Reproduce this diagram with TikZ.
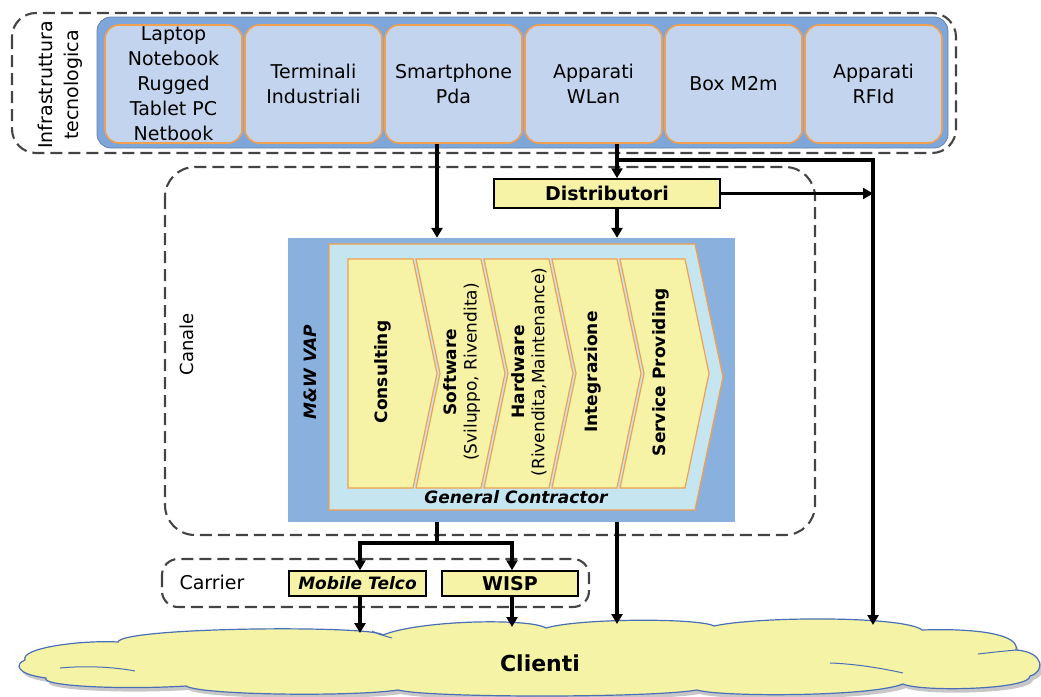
\documentclass[tikz,border=0pt]{standalone}
\usepackage{fontspec}
\setmainfont{DejaVu Sans}
\usetikzlibrary{arrows.meta,calc}

\definecolor{bandblue}{HTML}{7EA6DA}
\definecolor{devfill}{HTML}{C3D5EE}
\definecolor{orangeln}{HTML}{F0A050}
\definecolor{vapblue}{HTML}{8AB0DE}
\definecolor{gcfill}{HTML}{C5E6F1}
\definecolor{chevfill}{HTML}{F6F2A6}
\definecolor{cloudfill}{HTML}{F5F3A6}
\definecolor{cloudedge}{HTML}{4A6FB5}
\definecolor{dashgray}{HTML}{444444}

% outline of the customer cloud
\newcommand\cloudoutline{(25,660) .. controls (20,648) and (80,640) .. (118,642)
  .. controls (122,627) and (372,625) .. (383,635)
  .. controls (420,620) and (530,618) .. (546,628)
  .. controls (580,618) and (700,618) .. (714,626)
  .. controls (760,616) and (905,616) .. (922,630)
  .. controls (980,628) and (1020,635) .. (1016,650)
  .. controls (1045,652) and (1045,672) .. (1030,676)
  .. controls (1030,690) and (920,692) .. (903,684)
  .. controls (870,697) and (720,697) .. (697,690)
  .. controls (650,698) and (430,698) .. (398,690)
  .. controls (350,697) and (200,695) .. (186,686)
  .. controls (120,690) and (40,686) .. (46,678)
  .. controls (15,674) and (15,664) .. (25,660) -- cycle}

\begin{document}
\begin{tikzpicture}[x=1pt,y=-1pt,
  group/.style={draw=dashgray, line width=2.1pt, dash pattern=on 12pt off 6pt, rounded corners=#1},
  device/.style={draw=orangeln, line width=1.6pt, fill=devfill, rounded corners=14pt,
    minimum width=137pt, minimum height=118pt, inner sep=0pt, align=center,
    font=\fontsize{19}{25}\selectfont},
  tag/.style={draw=black, line width=1.5pt, fill=chevfill, inner sep=0pt},
  arr/.style={line width=3.6pt, -{Triangle[length=10pt,width=11pt]}},
  link/.style={line width=3.6pt},
  chev/.style={draw=orangeln, line width=1.2pt, fill=chevfill},
  vlabel/.style={rotate=90, align=center, font=\fontsize{17}{20}\selectfont\bfseries},
  cloudstroke/.style={draw=cloudedge, line width=1pt},
]
\useasboundingbox (0,0) rectangle (1041,696);

% ---- technology infrastructure ----
\draw[group=24pt] (12,13) rectangle (956,153);
\draw[fill=bandblue, draw=bandblue!80!black, line width=0.8pt, rounded corners=14pt] (97,17) rectangle (948,148);
\node[rotate=90, align=center, font=\fontsize{19}{26}\selectfont] (infra) at (60,85) {Infrastruttura\\tecnologica};

\node[device] (dev1) at (173.5,84) {Laptop\\Notebook\\Rugged\\Tablet PC\\Netbook};
\node[device] (dev2) at (313.5,84) {Terminali\\Industriali};
\node[device] (dev3) at (453.5,84) {Smartphone\\Pda};
\node[device] (dev4) at (593.5,84) {Apparati\\WLan};
\node[device] (dev5) at (733.5,84) {Box M2m};
\node[device] (dev6) at (873.5,84) {Apparati\\RFId};

% ---- channel ----
\draw[group=30pt] (165,167) rectangle (815,535);
\node[rotate=90, font=\fontsize{18}{22}\selectfont] (canale) at (187,344) {Canale};

\node[tag, minimum width=226pt, minimum height=29pt, font=\fontsize{19}{22}\selectfont\bfseries] (dist) at (607,193.5) {Distributori};

\node[fill=vapblue, minimum width=447pt, minimum height=284pt, inner sep=0pt] (vap) at (511.5,380) {};
\draw[draw=orangeln, line width=1.3pt, fill=gcfill] (329,244) -- (695,244) -- (723,377) -- (695,510) -- (329,510) -- cycle;
\node[font=\fontsize{17}{20}\selectfont\bfseries\itshape] (gc) at (516,497) {General Contractor};
\node[rotate=90, font=\fontsize{17}{20}\selectfont\bfseries\itshape] (mw) at (310,372) {M\&W VAP};

% value chain
\draw[chev] (348,259) -- (413,259) -- (437,373.5) -- (413,488) -- (348,488) -- cycle;
\foreach \L in {416,484,552,620}
  \draw[chev] (\L,259) -- ({\L+65},259) -- ({\L+89},373.5) -- ({\L+65},488) -- (\L,488) -- ({\L+24},373.5) -- cycle;

\node[vlabel] (s1) at (383,372) {Consulting};
\node[vlabel] (s2) at (462,372) {Software\\{\mdseries\fontsize{17}{20}\selectfont (Sviluppo, Rivendita)}};
\node[vlabel] (s3) at (529,372) {Hardware\\{\mdseries\fontsize{17}{20}\selectfont (Rivendita,Maintenance)}};
\node[vlabel] (s4) at (593,372) {Integrazione};
\node[vlabel] (s5) at (661,372) {Service Providing};

% ---- carriers ----
\draw[group=16pt] (162,559) rectangle (589,607);
\node[font=\fontsize{19}{22}\selectfont] (carrier) at (212,582) {Carrier};
\node[tag, minimum width=137pt, minimum height=25pt, font=\fontsize{17}{20}\selectfont\bfseries\itshape] (mob) at (357.5,583.5) {Mobile Telco};
\node[tag, minimum width=136pt, minimum height=25pt, font=\fontsize{19}{20}\selectfont\bfseries] (wisp) at (510,583.5) {WISP};

% ---- customers ----
\fill[black, opacity=0.22, shift={(3,4)}] \cloudoutline;
\draw[fill=cloudfill, draw=cloudedge, line width=1.2pt] \cloudoutline;
\draw[cloudstroke] (60,668) .. controls (90,665) and (120,668) .. (135,671);
\draw[cloudstroke] (372,631) .. controls (378,634) .. (392,638);
\draw[cloudstroke] (830,663) .. controls (860,664) and (890,670) .. (903,673);
\draw[cloudstroke] (978,654) .. controls (995,652) .. (1016,650);
\node[font=\fontsize{22}{26}\selectfont\bfseries] (clienti) at (540,663) {Clienti};

% ---- connectors ----
\coordinate (xa) at (437,0);
\coordinate (xb) at (617,0);
\coordinate (xc) at (873,0);
\coordinate (xm) at (360,0);
\coordinate (xw) at (512,0);
\coordinate (fork) at (617,160);
\coordinate (split) at (437,543);
\coordinate (e1) at (360,633);
\coordinate (e2) at (512,627);
\coordinate (e3) at (617,624);
\coordinate (e4) at (873,625);

\draw[arr] (dev3.south -| xa) -- (vap.north -| xa);
\draw[arr] (dev4.south -| xb) -- (dist.north -| xb);
\draw[arr] (fork) -| (e4);
\draw[arr] (dist.east) -- (dist.east -| xc);
\draw[arr] (dist.south -| xb) -- (vap.north -| xb);
\draw[link] (vap.south -| xa) -- (split);
\draw[arr] (split) -| (mob.north -| xm);
\draw[arr] (split) -| (wisp.north -| xw);
\draw[arr] (mob.south -| xm) -- (e1);
\draw[arr] (wisp.south -| xw) -- (e2);
\draw[arr] (vap.south -| xb) -- (e3);
\end{tikzpicture}
\end{document}
